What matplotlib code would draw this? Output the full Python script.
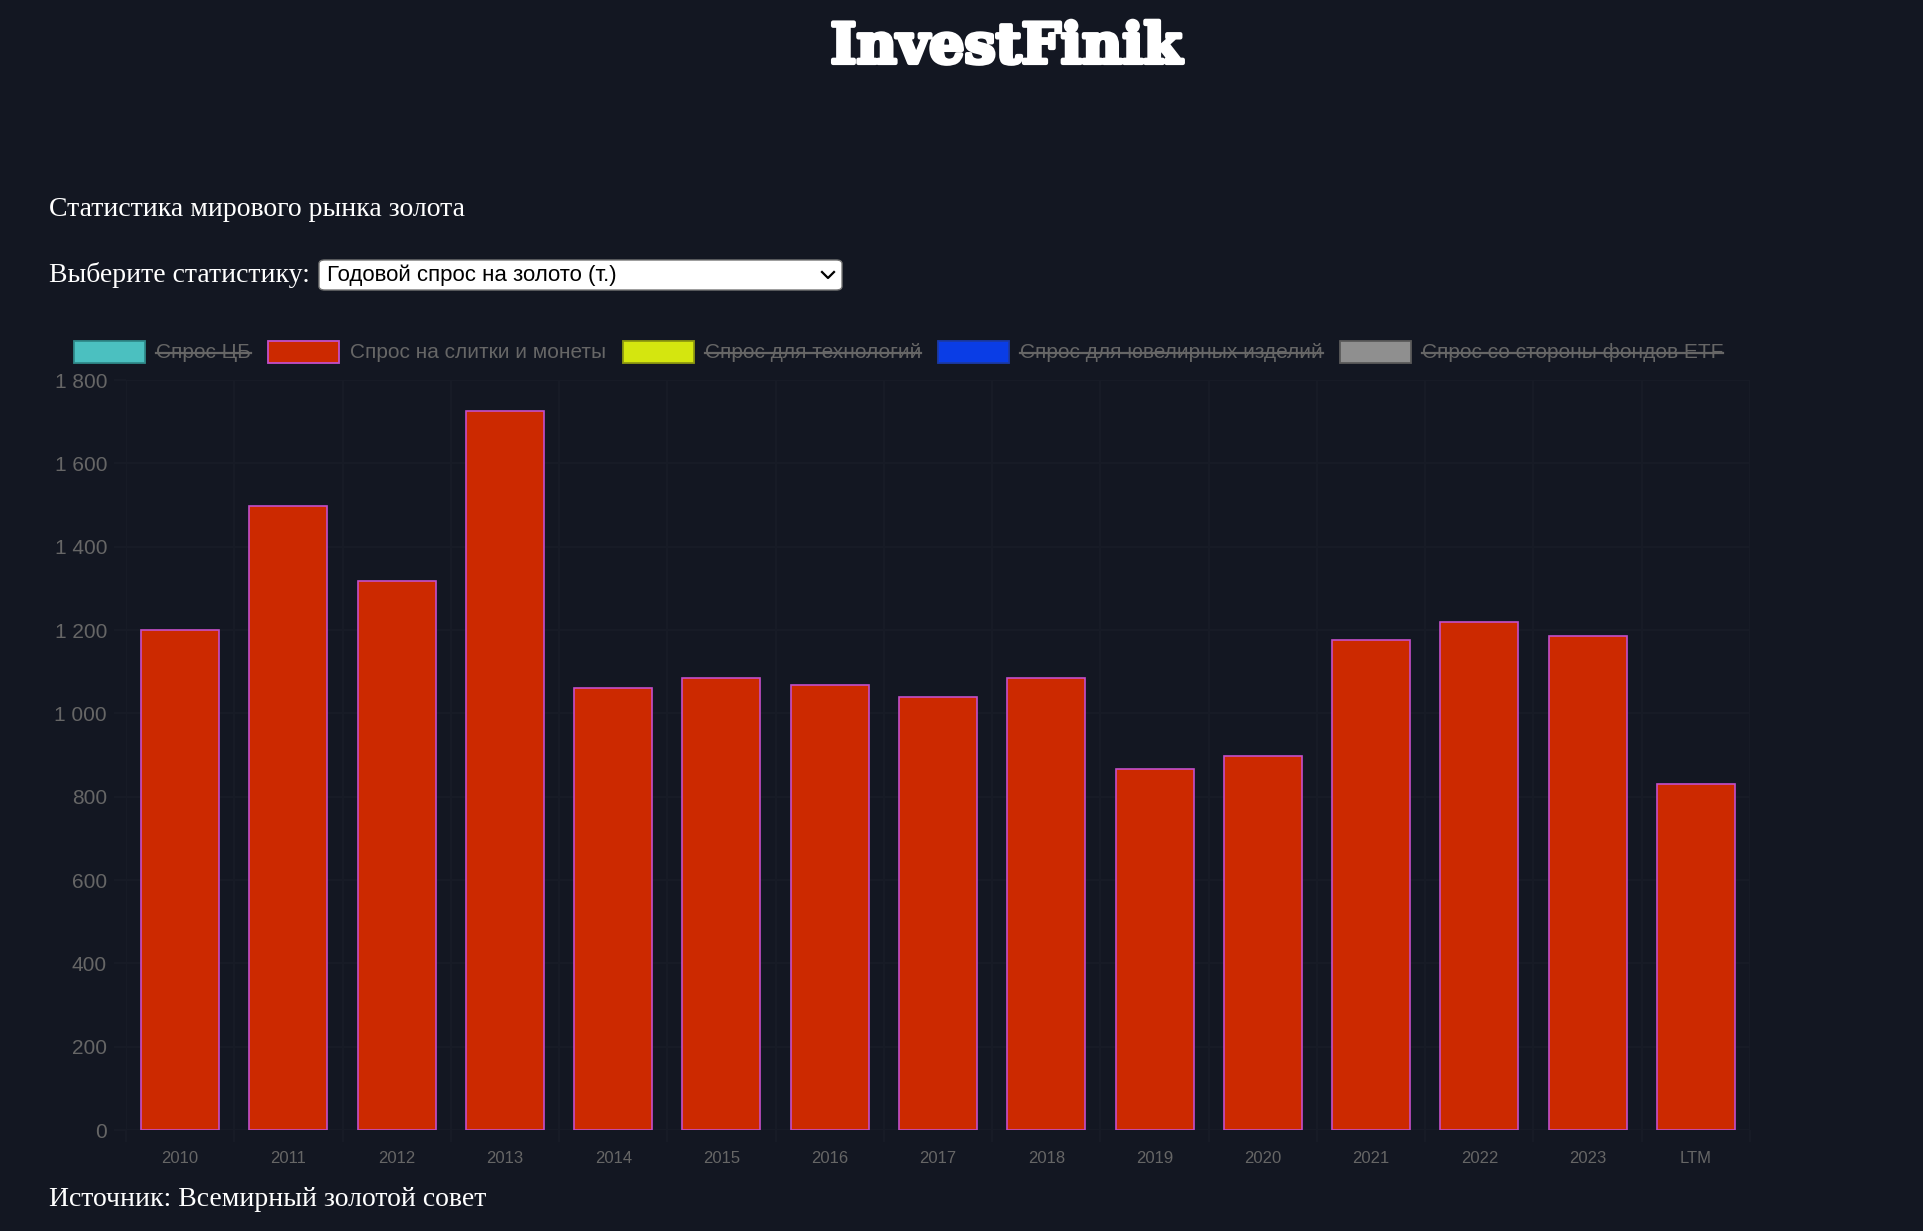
import matplotlib
matplotlib.use("Agg")
import matplotlib.pyplot as plt
import matplotlib.patheffects as pe
from matplotlib.patches import Rectangle, FancyBboxPatch
from matplotlib.lines import Line2D
from matplotlib.ticker import FuncFormatter, MultipleLocator

# данные: спрос на слитки и монеты (т.)
years = ["2010", "2011", "2012", "2013", "2014", "2015", "2016", "2017",
         "2018", "2019", "2020", "2021", "2022", "2023", "LTM"]
bars_coins = [1200, 1498, 1318, 1726, 1062, 1086, 1068, 1039,
              1086, 866, 898, 1176, 1219, 1185, 831]

legend_labels = ["Спрос ЦБ", "Спрос на слитки и монеты", "Спрос для технологий",
                 "Спрос для ювелирных изделий", "Спрос со стороны фондов ETF"]
legend_hidden = [True, False, True, True, True]
legend_face = ["#4bc0c0", "#cc2900", "#d4e60f", "#0a3de6", "#8f8f8f"]
legend_edge = ["#2f8a8a", "#c44fc9", "#8f9a10", "#1a3aa8", "#5a5a5a"]

BG = "#131722"
GRID = "#181c27"
TXT = "#666666"
W, H = 1924, 1231


def P(x, y):
    return x / W, 1 - y / H


fig = plt.figure(figsize=(W / 100, H / 100), dpi=100, facecolor=BG)

# заголовок страницы
fig.text(*P(1006, 63), "InvestFinik", color="white", fontsize=40,
         fontweight="bold", family="DejaVu Serif", ha="center", va="baseline",
         path_effects=[pe.withStroke(linewidth=3, foreground="white")])
fig.text(*P(49, 209), "Статистика мирового рынка золота", color="white",
         fontsize=20, family="Liberation Serif", ha="left", va="center")
fig.text(*P(49, 275), "Выберите статистику:", color="white",
         fontsize=20, family="Liberation Serif", ha="left", va="center")

# выпадающий список
x0, y0 = P(319, 290)
x1, y1 = P(842, 260)
fig.patches.append(FancyBboxPatch((x0, y0), x1 - x0, y1 - y0,
                                  boxstyle="round,pad=0,rounding_size=0.003",
                                  transform=fig.transFigure, facecolor="white",
                                  edgecolor="#767676", linewidth=1))
fig.text(*P(327, 275), "Годовой спрос на золото (т.)", color="black",
         fontsize=16, family="Liberation Sans", ha="left", va="center")
cx = [P(822, 272)[0], P(828, 278)[0], P(834, 272)[0]]
cy = [P(822, 272)[1], P(828, 278)[1], P(834, 272)[1]]
fig.lines.append(Line2D(cx, cy, transform=fig.transFigure, color="black", lw=1.6))

fig.text(*P(49, 1200), "Источник: Всемирный золотой совет", color="white",
         fontsize=20, family="Liberation Serif", ha="left", va="center")

# легенда
renderer = fig.canvas.get_renderer()
lx = 74
ly = 352
for lab, hid, fc, ec in zip(legend_labels, legend_hidden, legend_face, legend_edge):
    bx, by = P(lx, ly + 11)
    fig.patches.append(Rectangle((bx, by), 71 / W, 22 / H, transform=fig.transFigure,
                                 facecolor=fc, edgecolor=ec, linewidth=1.3))
    t = fig.text(*P(lx + 82, ly), lab, color=TXT, fontsize=15,
                 family="Liberation Sans", ha="left", va="center")
    tw = t.get_window_extent(renderer).width
    if hid:
        sx0, sy = P(lx + 82, ly + 1)
        sx1, _ = P(lx + 82 + tw, ly + 1)
        fig.lines.append(Line2D([sx0, sx1], [sy, sy], transform=fig.transFigure,
                                color=TXT, lw=1.6))
    lx = lx + 82 + tw + 17

# график
ax = fig.add_axes([126 / W, 1 - 1130 / H, 1624 / W, 750 / H])
ax.set_facecolor(BG)
xs = list(range(len(years)))
ax.bar(xs, bars_coins, width=0.72, color="#cc2900", edgecolor="#c44fc9",
       linewidth=1.2, zorder=3)
ax.set_xlim(-0.5, len(years) - 0.5)
ax.set_ylim(0, 1800)

ax.yaxis.set_major_locator(MultipleLocator(200))
ax.yaxis.set_major_formatter(FuncFormatter(lambda v, p: f"{int(v):,}".replace(",", " ")))
ax.set_xticks(xs)
ax.set_xticklabels(years)
ax.set_xticks([i - 0.5 for i in range(len(years) + 1)], minor=True)

ax.grid(True, axis="y", which="major", color=GRID, lw=1.2, zorder=0)
ax.grid(True, axis="x", which="minor", color=GRID, lw=1.2, zorder=0)
ax.tick_params(axis="y", which="major", length=8.6, width=1.2, color=GRID,
               labelcolor=TXT, labelsize=15, pad=5)
ax.tick_params(axis="x", which="major", length=0, labelcolor=TXT, labelsize=12, pad=15)
ax.tick_params(axis="x", which="minor", length=8.6, width=1.2, color=GRID)
for lbl in ax.get_yticklabels() + ax.get_xticklabels():
    lbl.set_family("Liberation Sans")
for s in ax.spines.values():
    s.set_visible(False)

fig.savefig("out.png", dpi=100, facecolor=BG)
